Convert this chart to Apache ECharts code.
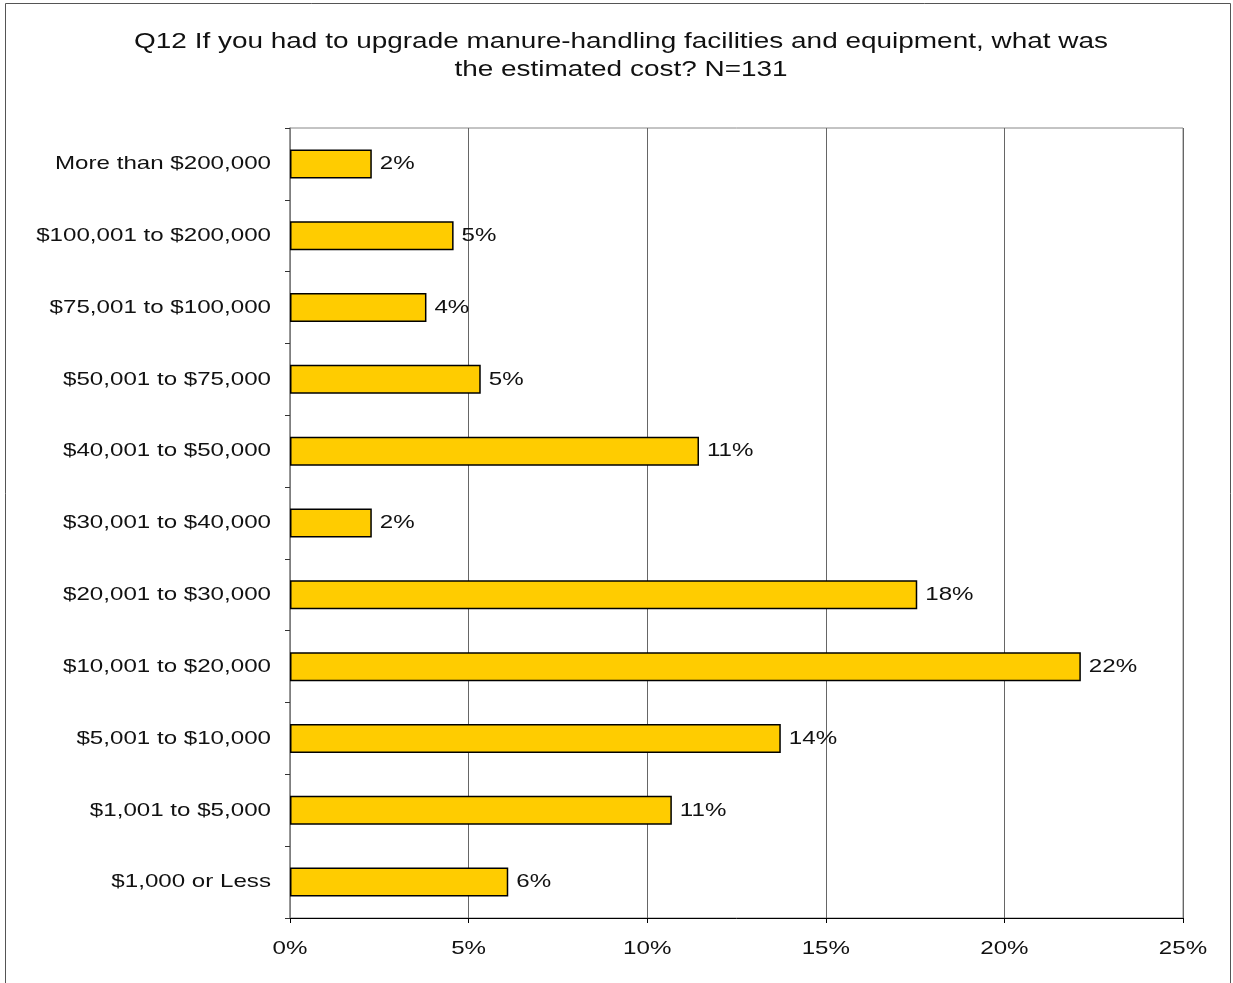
<!DOCTYPE html>
<html>
<head>
<meta charset="utf-8">
<script src="https://cdn.jsdelivr.net/npm/echarts@6/dist/echarts.min.js"></script>
<style>
  html, body { margin: 0; padding: 0; background: #fff; }
  #chart { width: 1233px; height: 983px; }
</style>
</head>
<body>
<div id="chart"></div>
<script>
// Cost ranges, listed top to bottom
const categories = [
  'More than $200,000',
  '$100,001 to $200,000',
  '$75,001 to $100,000',
  '$50,001 to $75,000',
  '$40,001 to $50,000',
  '$30,001 to $40,000',
  '$20,001 to $30,000',
  '$10,001 to $20,000',
  '$5,001 to $10,000',
  '$1,001 to $5,000',
  '$1,000 or Less'
];
// Share of respondents (%)
const shares = [2.29, 4.58, 3.82, 5.34, 11.45, 2.29, 17.56, 22.14, 13.74, 10.69, 6.11];
const xTicks = [0, 5, 10, 15, 20, 25];
const titleLines = [
  'Q12 If you had to upgrade manure-handling facilities and equipment, what was',
  'the estimated cost? N=131'
];

// Text is set in a horizontally expanded Arial: widen every glyph run
// around its own anchor point so left/centre/right alignment is preserved.
const TEXT_STRETCH = 1.27;
['fillText', 'strokeText'].forEach(name => {
  const base = CanvasRenderingContext2D.prototype[name];
  CanvasRenderingContext2D.prototype[name] = function (text, x, y, maxWidth) {
    this.save();
    this.translate(x, y);
    this.scale(TEXT_STRETCH, 1);
    if (maxWidth === undefined) base.call(this, text, 0, 0);
    else base.call(this, text, 0, 0, maxWidth / TEXT_STRETCH);
    this.restore();
  };
});

const font = '"Liberation Sans", Arial, sans-serif';
const textColor = '#111';
const chart = echarts.init(document.getElementById('chart'), null, { renderer: 'canvas', devicePixelRatio: 1 });

chart.setOption({
  backgroundColor: '#fff',
  animation: false,
  title: {
    text: titleLines.join('\n'),
    left: 616,
    textAlign: 'center',
    top: 23,
    textStyle: { fontFamily: font, fontSize: 22, fontWeight: 'normal', color: textColor, lineHeight: 28 }
  },
  graphic: [{
    type: 'rect',
    shape: { x: 5.5, y: 3.5, width: 1225, height: 1000 },
    style: { fill: 'none', stroke: '#555', lineWidth: 1 },
    silent: true
  }],
  grid: {
    left: 290, right: 50, top: 128, bottom: 65,
    show: true, borderColor: '#888', borderWidth: 1, backgroundColor: 'transparent'
  },
  xAxis: {
    type: 'value',
    min: xTicks[0],
    max: xTicks[xTicks.length - 1],
    interval: 5,
    axisLine: { show: true, lineStyle: { color: '#000', width: 1 } },
    axisTick: { show: true, length: 5, lineStyle: { color: '#000' } },
    splitLine: { show: true, lineStyle: { color: '#666', width: 1 } },
    axisLabel: {
      formatter: v => v + '%',
      fontFamily: font, fontSize: 19, color: textColor, margin: 21
    }
  },
  yAxis: {
    type: 'category',
    data: categories,
    inverse: true,
    axisLine: { show: true, lineStyle: { color: '#888', width: 1.5 } },
    axisTick: { show: true, length: 5, lineStyle: { color: '#333' } },
    splitLine: { show: false },
    axisLabel: { fontFamily: font, fontSize: 19, color: textColor, margin: 19 }
  },
  series: [{
    type: 'bar',
    data: shares,
    barWidth: 29,
    itemStyle: { color: '#FFCC00', borderColor: '#000', borderWidth: 1.5 },
    label: {
      show: true,
      position: 'right',
      distance: 8,
      formatter: p => Math.round(p.value) + '%',
      fontFamily: font, fontSize: 19, color: textColor
    }
  }]
});
</script>
</body>
</html>
